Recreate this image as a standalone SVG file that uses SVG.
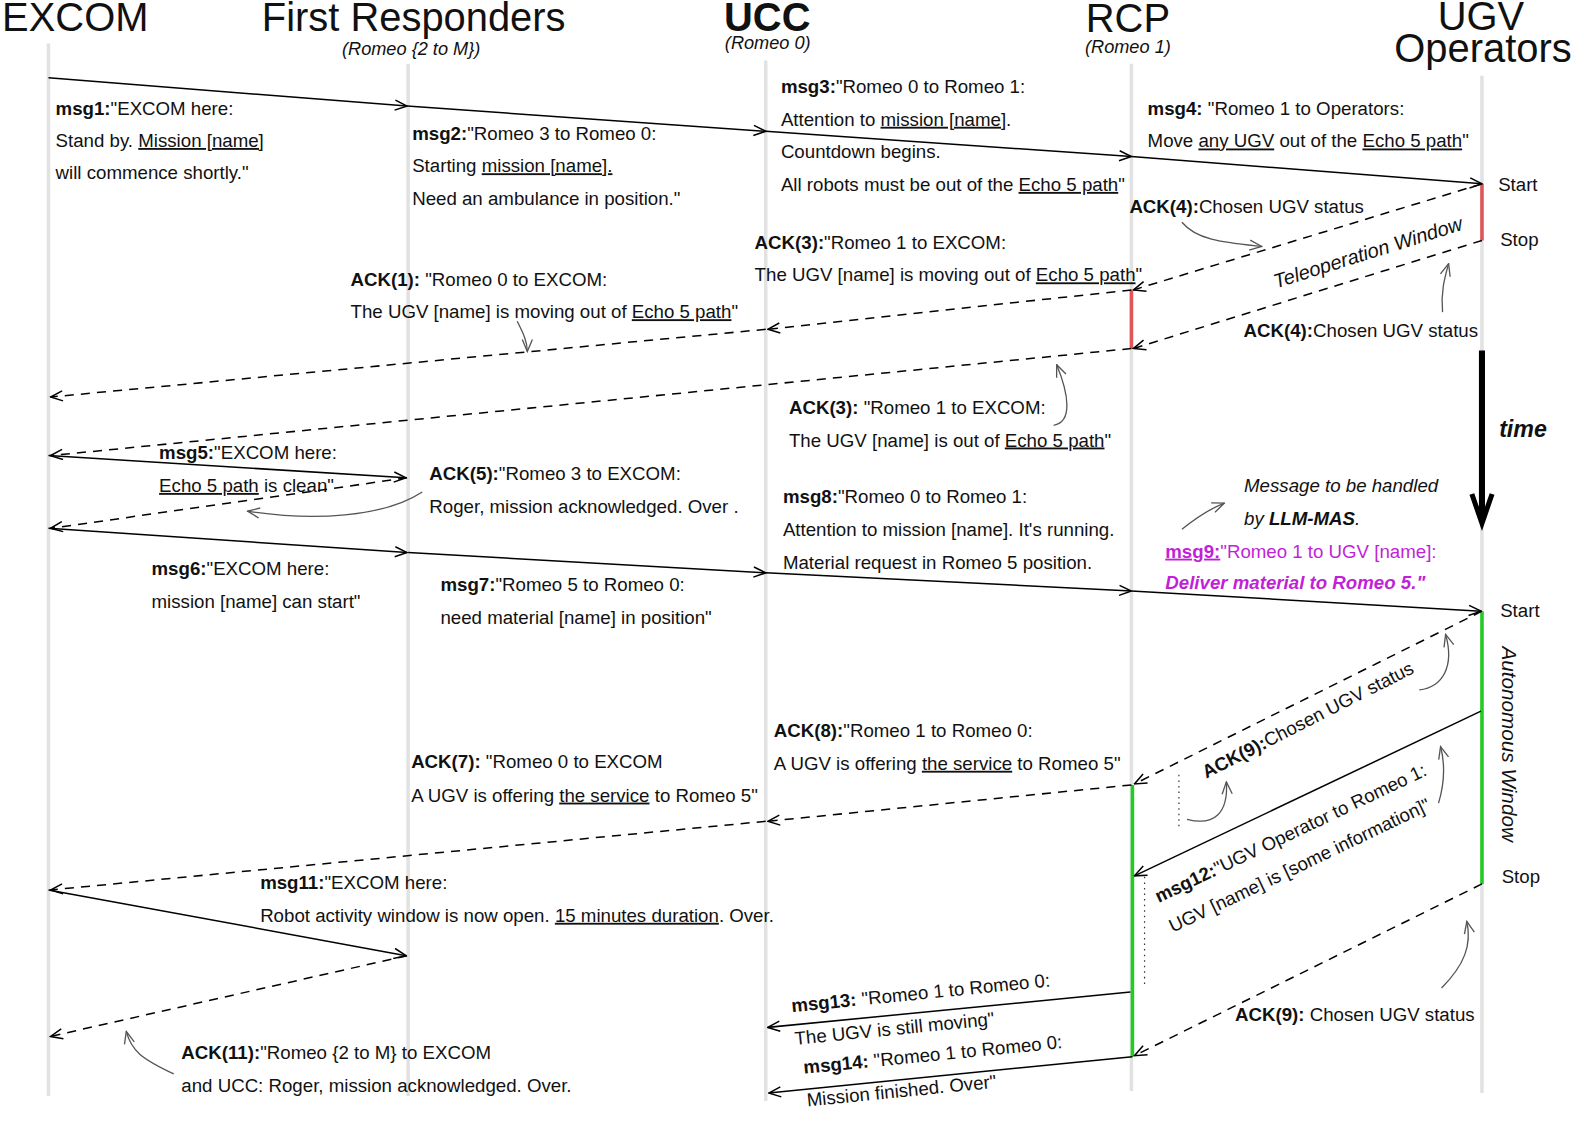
<svg xmlns="http://www.w3.org/2000/svg" width="1584" height="1122" viewBox="0 0 1584 1122">
<defs>
<style>
text{font-family:"Liberation Sans",Arial,Helvetica,sans-serif;fill:#111}
.t{font-size:18.5px}
.h{font-size:39.5px;text-anchor:middle}
.s{font-size:18px;font-style:italic;text-anchor:middle}
.b{font-weight:bold}
.u{text-decoration:underline}
.i{font-style:italic}
.ll{stroke:#e2e2e2;stroke-width:3.5}
.m{stroke:#000;stroke-width:1.5;fill:none;marker-end:url(#ah)}
.d{stroke:#000;stroke-width:1.5;fill:none;stroke-dasharray:9 7;marker-end:url(#ah)}
.a{stroke:#555;stroke-width:1.3;fill:none;marker-end:url(#ag)}
.red{stroke:#e05555;stroke-width:3.5}
.grn{stroke:#22cc22;stroke-width:3.5}
.dot{stroke:#333;stroke-width:1.2;stroke-dasharray:1.5 4}
.mg{fill:#c21fd8}
</style>
<marker id="ah" viewBox="0 0 14 12" markerWidth="14" markerHeight="12" refX="13" refY="6" orient="auto" markerUnits="userSpaceOnUse"><path d="M1,1 L13,6 L1,11" fill="none" stroke="#000" stroke-width="1.5"/></marker>
<marker id="ag" viewBox="0 0 14 12" markerWidth="14" markerHeight="12" refX="13" refY="6" orient="auto" markerUnits="userSpaceOnUse"><path d="M1,1 L13,6 L1,11" fill="none" stroke="#555" stroke-width="1.3"/></marker>
</defs>
<rect width="1584" height="1122" fill="#fff"/>
<g transform="scale(1.0102)">
<g id="excom">
<line class="ll" x1="48" y1="43" x2="48" y2="1085"/>
<text class="h" x="74.5" y="30.5">EXCOM</text>
</g>
<g id="first-responders">
<line class="ll" x1="404" y1="63" x2="404" y2="1085"/>
<text class="h" x="409.5" y="30.5">First Responders</text>
<text class="s" x="407" y="54">(Romeo {2 to M})</text>
</g>
<g id="ucc">
<line class="ll" x1="758" y1="60" x2="758" y2="1090"/>
<text class="h b" x="759.5" y="31">UCC</text>
<text class="s" x="760" y="48.5">(Romeo 0)</text>
</g>
<g id="rcp">
<line class="ll" x1="1120" y1="63" x2="1120" y2="1080"/>
<text class="h" x="1116.5" y="31.5">RCP</text>
<text class="s" x="1116.5" y="52.5">(Romeo 1)</text>
<line class="red" x1="1120" y1="287" x2="1120" y2="345"/>
<line class="grn" x1="1121" y1="777" x2="1121" y2="1046"/>
</g>
<g id="ugv-operators">
<line class="ll" x1="1467" y1="75" x2="1467" y2="1082"/>
<text class="h" x="1466" y="29.5">UGV</text>
<text class="h" x="1468" y="61.5">Operators</text>
<line class="red" x1="1467" y1="182" x2="1467" y2="238"/>
<line class="grn" x1="1467" y1="605" x2="1467" y2="875"/>
<text class="t" x="1483" y="189">Start</text>
<text class="t" x="1485" y="243.5">Stop</text>
<text class="t" x="1485" y="610.5">Start</text>
<text class="t" x="1486.5" y="874.5">Stop</text>
<text class="i" font-size="19.8" transform="translate(1263,285.5) rotate(-17.4)">Teleoperation Window</text>
<text class="i" font-size="20.5" transform="translate(1487,640) rotate(90)">Autonomous Window</text>
</g>
<g id="time">
<line x1="1467" y1="347" x2="1467" y2="512" stroke="#000" stroke-width="6"/>
<path d="M1457,489 L1467,518 L1477,489" fill="none" stroke="#000" stroke-width="5"/>
<text class="b i" font-size="23" x="1484" y="433">time</text>
</g>
<g id="connectors">
<path class="m" d="M48,77 L403,105"/>
<path class="m" d="M403,105 L758,130"/>
<path class="m" d="M758,130 L1120,155"/>
<path class="m" d="M1120,155 L1467,182"/>
<path class="d" d="M1467,182 L1122,287"/>
<path class="d" d="M1467,238 L1122,345"/>
<path class="d" d="M1120,287 L760,326"/>
<path class="d" d="M758,326 L50,393"/>
<path class="d" d="M1120,345 L50,451"/>
<path class="m" d="M48,451 L402,473"/>
<path class="d" d="M403,473 L50,523"/>
<path class="m" d="M48,523 L403,547"/>
<path class="m" d="M404,547 L758,567"/>
<path class="m" d="M758,567 L1120,585"/>
<path class="m" d="M1120,585 L1466,605"/>
<path class="d" d="M1467,605 L1123,776"/>
<path class="d" d="M1120,777 L760,813"/>
<path class="d" d="M758,813 L50,881"/>
<path class="m" d="M48,881 L402,946"/>
<path class="d" d="M403,946 L50,1026"/>
<path class="m" d="M1466,704 L1123,867"/>
<path class="d" d="M1467,875 L1123,1045"/>
<path class="m" d="M1119,982 L760,1017"/>
<path class="m" d="M1121,1046 L761,1082"/>
<line class="dot" x1="1167" y1="767" x2="1167" y2="818"/>
<line class="dot" x1="1133" y1="868" x2="1133" y2="975"/>
</g>
<g id="annotations">
<path class="a" d="M1170,220 C1185,238 1212,240 1249,244"/>
<path class="a" d="M1428,309 C1426,290 1430,275 1434,261"/>
<path class="a" d="M512,318 C518,330 522,338 522,348"/>
<path class="a" d="M1043,421 C1062,418 1058,390 1046,361"/>
<path class="a" d="M418,487 C380,512 310,516 245,506"/>
<path class="a" d="M1170,524 Q1192,506 1212,498"/>
<path class="a" d="M1405,683 C1428,680 1440,660 1431,628"/>
<path class="a" d="M1175,811 C1202,818 1216,805 1214,774"/>
<path class="a" d="M1424,795 C1430,775 1431,758 1426,739"/>
<path class="a" d="M1427,978 C1450,955 1457,935 1452,912"/>
<path class="a" d="M172,1063 C140,1048 130,1040 125,1021"/>
</g>
<g id="labels" class="t">
<text class="t" x="55" y="113.5"><tspan class="b">msg1:</tspan>"EXCOM here:</text>
<text class="t" x="55" y="145.5">Stand by. <tspan class="u">Mission [name]</tspan></text>
<text class="t" x="55" y="177.5">will commence shortly."</text>

<text class="t" x="408" y="138.5"><tspan class="b">msg2:</tspan>"Romeo 3 to Romeo 0:</text>
<text class="t" x="408" y="170.5"><tspan>Starting </tspan><tspan class="u">mission [name].</tspan></text>
<text class="t" x="408" y="202.5">Need an ambulance in position."</text>

<text class="t" x="773" y="92"><tspan class="b">msg3:</tspan>"Romeo 0 to Romeo 1:</text>
<text class="t" x="773" y="124.5">Attention to <tspan class="u">mission [name]</tspan>.</text>
<text class="t" x="773" y="156.5">Countdown begins.</text>
<text class="t" x="773" y="189">All robots must be out of the <tspan class="u">Echo 5 path</tspan>"</text>

<text class="t" x="1136" y="114"><tspan class="b">msg4:</tspan> "Romeo 1 to Operators:</text>
<text class="t" x="1136" y="146">Move <tspan class="u">any UGV</tspan> out of the <tspan class="u">Echo 5 path</tspan>"</text>

<text class="t" x="1118" y="210.5"><tspan class="b">ACK(4):</tspan>Chosen UGV status</text>
<text class="t" x="1231" y="333.5"><tspan class="b">ACK(4):</tspan>Chosen UGV status</text>

<text class="t" x="747" y="246"><tspan class="b">ACK(3):</tspan>"Romeo 1 to EXCOM:</text>
<text class="t" x="747" y="278.5">The UGV [name] is moving out of <tspan class="u">Echo 5 path</tspan>"</text>

<text class="t" x="347" y="283.5"><tspan class="b">ACK(1):</tspan> "Romeo 0 to EXCOM:</text>
<text class="t" x="347" y="315">The UGV [name] is moving out of <tspan class="u">Echo 5 path</tspan>"</text>

<text class="t" x="781" y="410"><tspan class="b">ACK(3):</tspan> "Romeo 1 to EXCOM:</text>
<text class="t" x="781" y="442">The UGV [name] is out of <tspan class="u">Echo 5 path</tspan>"</text>

<text class="t" x="157.5" y="454.5"><tspan class="b">msg5:</tspan>"EXCOM here:</text>
<text class="t" x="157.5" y="487"><tspan class="u">Echo 5 path</tspan> is clean"</text>

<text class="t" x="425" y="475.5"><tspan class="b">ACK(5):</tspan>"Romeo 3 to EXCOM:</text>
<text class="t" x="425" y="508">Roger, mission acknowledged. Over .</text>

<text class="t" x="150" y="569.5"><tspan class="b">msg6:</tspan>"EXCOM here:</text>
<text class="t" x="150" y="602">mission [name] can start"</text>

<text class="t" x="436" y="585"><tspan class="b">msg7:</tspan>"Romeo 5 to Romeo 0:</text>
<text class="t" x="436" y="617.5">need material [name] in position"</text>

<text class="t" x="775" y="498"><tspan class="b">msg8:</tspan>"Romeo 0 to Romeo 1:</text>
<text class="t" x="775" y="530.5">Attention to mission [name]. It's running.</text>
<text class="t" x="775" y="563">Material request in Romeo 5 position.</text>

<text class="t i" x="1231.5" y="487">Message to be handled</text>
<text class="t i" x="1231.5" y="520">by <tspan class="b">LLM-MAS</tspan>.</text>

<text class="t mg" x="1153.5" y="552"><tspan class="b u mg">msg9:</tspan>"Romeo 1 to UGV [name]:</text>
<text class="t b i mg" x="1153.5" y="583.5">Deliver material to Romeo 5."</text>

<text class="t" transform="translate(1194,771) rotate(-27)"><tspan class="b">ACK(9):</tspan>Chosen UGV status</text>

<text class="t" x="766" y="730"><tspan class="b">ACK(8):</tspan>"Romeo 1 to Romeo 0:</text>
<text class="t" x="766" y="762">A UGV is offering <tspan class="u">the service</tspan> to Romeo 5"</text>

<text class="t" x="407" y="760.5"><tspan class="b">ACK(7):</tspan> "Romeo 0 to EXCOM</text>
<text class="t" x="407" y="793.5">A UGV is offering <tspan class="u">the service</tspan> to Romeo 5"</text>

<text class="t" transform="translate(1147,894) rotate(-25.5)"><tspan class="b">msg12:</tspan>"UGV Operator to Romeo 1:<tspan x="0" y="32.5">UGV [name] is [some information]"</tspan></text>

<text class="t" x="257.5" y="880"><tspan class="b">msg11:</tspan>"EXCOM here:</text>
<text class="t" x="257.5" y="912.5">Robot activity window is now open. <tspan class="u">15 minutes duration</tspan>. Over.</text>

<text class="t" x="1222.5" y="1010.5"><tspan class="b">ACK(9):</tspan> Chosen UGV status</text>

<text class="t" x="179.5" y="1048"><tspan class="b">ACK(11):</tspan>"Romeo {2 to M} to EXCOM</text>
<text class="t" x="179.5" y="1080.5">and UCC: Roger, mission acknowledged. Over.</text>

<text class="t" transform="translate(784,1002) rotate(-5.7)"><tspan class="b">msg13:</tspan> "Romeo 1 to Romeo 0:<tspan x="0" y="32.5">The UGV is still moving"</tspan></text>
<text class="t" transform="translate(796,1063) rotate(-5.7)"><tspan class="b">msg14:</tspan> "Romeo 1 to Romeo 0:<tspan x="0" y="32.5">Mission finished. Over"</tspan></text>
</g>
</g>
</svg>
